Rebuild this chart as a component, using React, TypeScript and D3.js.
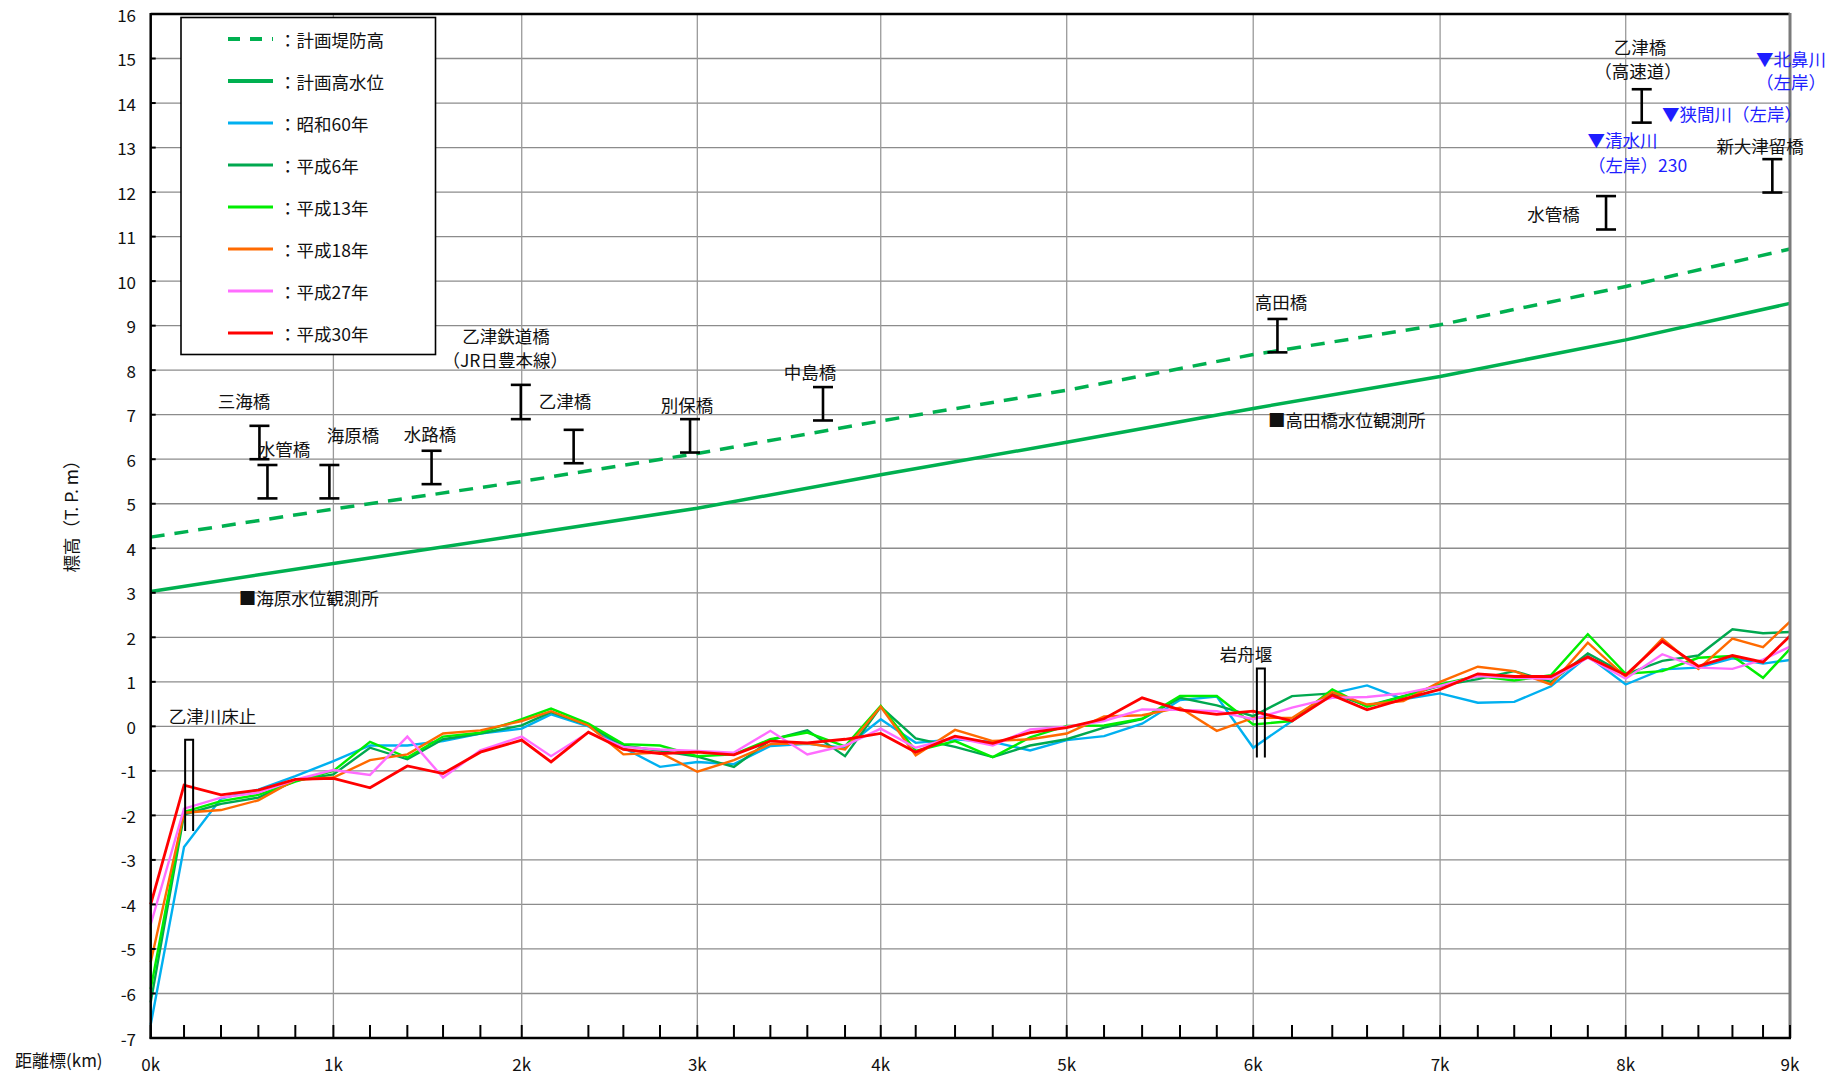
import React from "react";
import * as d3 from "d3";

// ---- data ----
// cumulative distance (m) of each surveyed cross-section (every 200 m km-post)
const stationDist = [0,183,386,591,794,1003,1204,1409,1605,1810,2037,2198,2403,2595,2796,3001,3202,3402,3605,3812,4008,4200,4416,4623,4828,5029,5234,5443,5651,5853,6053,6266,6487,6678,6877,7079,7286,7486,7688,7890,8098,8299,8497,8684,8852,9000];
const kmLabels = ["0k","1k","2k","3k","4k","5k","6k","7k","8k","9k"];
const noTickIdx = [11];
const yTicks = d3.range(-7, 17);

const s60 = [-6.7,-2.71,-1.62,-1.42,-1.12,-0.78,-0.43,-0.43,-0.33,-0.16,-0.05,0.27,0.0,-0.48,-0.91,-0.8,-0.85,-0.44,-0.39,-0.48,0.16,-0.37,-0.29,-0.35,-0.54,-0.31,-0.22,0.06,0.59,0.67,-0.48,0.12,0.74,0.92,0.61,0.74,0.53,0.55,0.9,1.58,0.94,1.28,1.32,1.53,1.41,1.49];
const h6 = [-6.2,-1.98,-1.74,-1.6,-1.22,-1.08,-0.48,-0.74,-0.29,-0.16,0.02,0.32,0.02,-0.43,-0.55,-0.68,-0.91,-0.31,-0.09,-0.67,0.44,-0.27,-0.46,-0.69,-0.43,-0.29,-0.03,0.16,0.64,0.47,0.23,0.68,0.74,0.46,0.68,0.91,1.06,1.24,1.0,1.64,1.17,1.47,1.59,2.18,2.09,2.12];
const h13 = [-5.9,-1.92,-1.68,-1.54,-1.24,-1.0,-0.35,-0.7,-0.23,-0.14,0.16,0.4,0.06,-0.4,-0.43,-0.67,-0.63,-0.29,-0.14,-0.45,0.46,-0.55,-0.33,-0.69,-0.25,0.01,0.02,0.17,0.68,0.68,0.04,0.12,0.83,0.44,0.67,0.94,1.13,1.03,1.15,2.07,1.18,1.24,1.54,1.58,1.09,1.74];
const h18 = [-5.3,-1.94,-1.88,-1.66,-1.2,-1.15,-0.76,-0.63,-0.16,-0.09,0.12,0.34,0.02,-0.63,-0.59,-1.02,-0.76,-0.4,-0.38,-0.52,0.44,-0.65,-0.08,-0.33,-0.29,-0.16,0.22,0.25,0.42,-0.1,0.19,0.19,0.77,0.49,0.57,1.0,1.34,1.24,0.94,1.88,1.11,1.97,1.29,1.97,1.78,2.35];
const h27 = [-4.45,-1.85,-1.6,-1.49,-1.2,-0.98,-1.09,-0.23,-1.15,-0.54,-0.23,-0.67,-0.14,-0.46,-0.52,-0.55,-0.59,-0.1,-0.63,-0.43,-0.05,-0.48,-0.25,-0.43,-0.07,-0.01,0.12,0.38,0.37,0.34,0.16,0.42,0.64,0.66,0.74,0.91,1.13,1.09,1.07,1.54,1.07,1.62,1.32,1.29,1.5,1.79];
const h30 = [-4.0,-1.32,-1.54,-1.43,-1.19,-1.17,-1.38,-0.89,-1.06,-0.58,-0.31,-0.8,-0.13,-0.52,-0.61,-0.58,-0.64,-0.33,-0.37,-0.29,-0.16,-0.58,-0.22,-0.38,-0.14,-0.03,0.17,0.64,0.37,0.27,0.34,0.12,0.7,0.37,0.61,0.83,1.18,1.12,1.12,1.56,1.15,1.91,1.35,1.59,1.44,2.03];

const planDike = [4.25,4.88,5.5,6.13,6.86,7.55,8.35,9.02,9.88,10.72];
const planHWL = [3.03,3.66,4.3,4.9,5.65,6.38,7.14,7.86,8.68,9.5];

const seriesNames = ["昭和60年","平成6年","平成13年","平成18年","平成27年","平成30年"];
const seriesValues = [s60, h6, h13, h18, h27, h30];
const seriesColors = ["#00b0f0","#00a84f","#00ee00","#ff6a00","#ff6dff","#ff0000"];

// bridges: name, distance (m), deck bottom, deck top
const bridgeNames = ["三海橋","水管橋","海原橋","水路橋","乙津鉄道橋","乙津橋","別保橋","中島橋","高田橋","水管橋","乙津橋","新大津留橋"];
const bridgeDist = [597,641,981,1542,2032,2322,2961,3691,6186,7990,8186,8903];
const bridgeBottom = [6.0,5.12,5.12,5.44,6.9,5.91,6.15,6.87,8.4,11.16,13.56,11.99];
const bridgeTop = [6.75,5.87,5.87,6.19,7.67,6.66,6.9,7.62,9.15,11.91,14.31,12.74];

// weirs
const weirDist = [211,6095];
const weirTop = [-0.3,1.3];
const weirBottom = [-2.35,-0.7];

// text annotations
const labelTexts = ["三海橋","水管橋","海原橋","水路橋","乙津鉄道橋","（JR日豊本線）","乙津橋","別保橋","中島橋","高田橋","水管橋","乙津橋","（高速道）","新大津留橋","■海原水位観測所","■高田橋水位観測所","乙津川床止","岩舟堰","▼清水川","（左岸）230","▼狭間川（左岸）","▼北鼻川","（左岸）"];
const labelDist = [512,732,1111,1534,1951,1946,2275,2945,3620,6206,7702,8177,8166,8836,483,6134,339,6014,8081,8163,8682,9006,9006];
const labelElev = [7.33,6.24,6.56,6.58,8.79,8.24,7.33,7.24,7.96,9.55,11.51,15.27,14.74,13.04,2.9,6.9,0.24,1.64,13.17,12.63,13.77,15.0,14.48];
const labelAnchor = ["middle","middle","middle","middle","middle","middle","middle","middle","middle","middle","middle","middle","middle","middle","start","start","middle","middle","middle","middle","middle","middle","middle"];
const labelBlue = [false,false,false,false,false,false,false,false,false,false,false,false,false,false,false,false,false,false,true,true,true,true,true];

const W = 1843, H = 1081;
const FONT = "'Noto Sans CJK JP', 'Noto Sans', sans-serif";

export default function App() {
  const x = d3.scaleLinear().domain([0, 9000]).range([150.7, 1790]);
  const y = d3.scaleLinear().domain([-7, 16]).range([1038, 14]);
  const kmIdx = stationDist.map((_, i) => i).filter((i) => i % 5 === 0);
  const kmDist = kmIdx.map((i) => stationDist[i]);

  const line = d3.line<[number, number]>().x((d) => x(d[0])).y((d) => y(d[1]));
  const mk = (vals: number[], dists: number[]) => line(vals.map((v, i) => [dists[i], v] as [number, number])) || "";

  const x0 = x(0), x1 = x(9000), yT = y(16), yB = y(-7);
  const legendItems = [
    { name: "計画堤防高", color: "#00b050", width: 4, dash: "12 10" },
    { name: "計画高水位", color: "#00b050", width: 4, dash: null },
    ...seriesNames.map((n, i) => ({ name: n, color: seriesColors[i], width: 3, dash: null })),
  ];

  return (
    <svg width={W} height={H} style={{ position: "absolute", left: 0, top: 0, background: "#fff" }} fontFamily={FONT}>
      <rect x={0} y={0} width={W} height={H} fill="#fff" />
      {/* grid */}
      {yTicks.filter((t) => t > -7 && t < 16).map((t) => (
        <line key={"gy" + t} x1={x0} x2={x1} y1={y(t)} y2={y(t)} stroke="#8c8c8c" strokeWidth={1.3} />
      ))}
      {kmDist.slice(1, -1).map((d, i) => (
        <line key={"gx" + i} x1={x(d)} x2={x(d)} y1={yT} y2={yB} stroke="#9a9a9a" strokeWidth={1.3} />
      ))}

      {/* plan lines */}
      <path d={mk(planHWL, kmDist)} fill="none" stroke="#00b050" strokeWidth={3.5} />
      <path d={mk(planDike, kmDist)} fill="none" stroke="#00b050" strokeWidth={3.5} strokeDasharray="14 10" />

      {/* bed profiles */}
      {seriesValues.map((vals, i) => (
        <path key={"s" + i} d={mk(vals, stationDist)} fill="none" stroke={seriesColors[i]} strokeWidth={i === 5 ? 2.8 : 2.4} strokeLinejoin="miter" />
      ))}

      {/* bridges */}
      {bridgeNames.map((n, i) => {
        const bx = x(bridgeDist[i]);
        const t = y(bridgeTop[i]), b = y(bridgeBottom[i]);
        return (
          <g key={"b" + i} stroke="#000" strokeWidth={2.6}>
            <line x1={bx} x2={bx} y1={t} y2={b} />
            <line x1={bx - 10} x2={bx + 10} y1={t} y2={t} />
            <line x1={bx - 10} x2={bx + 10} y1={b} y2={b} />
          </g>
        );
      })}

      {/* weirs */}
      {weirDist.map((d, i) => {
        const cx = x(d), t = y(weirTop[i]), b = y(weirBottom[i]);
        return (
          <path key={"w" + i} d={`M${cx - 4},${b}L${cx - 4},${t}L${cx + 4},${t}L${cx + 4},${b}`} fill="none" stroke="#000" strokeWidth={2} />
        );
      })}

      {/* axes */}
      <line x1={x0} x2={x1} y1={yT} y2={yT} stroke="#000" strokeWidth={2.5} />
      <line x1={x1} x2={x1} y1={yT - 1} y2={yB} stroke="#7a7a7a" strokeWidth={3} />
      <line x1={x0} x2={x0} y1={yT - 1} y2={yB + 1} stroke="#000" strokeWidth={2.5} />
      <line x1={x0 - 1} x2={x1 + 1} y1={yB} y2={yB} stroke="#000" strokeWidth={2.5} />

      {/* labels */}
      {labelTexts.map((t, i) => (
        <text key={"l" + i} x={x(labelDist[i])} y={y(labelElev[i])} textAnchor={labelAnchor[i]} dominantBaseline="central"
          fontSize={17.5} fill={labelBlue[i] ? "#1e1eff" : "#111"}>{t}</text>
      ))}

      {yTicks.map((t) => (
        <g key={"yt" + t}>
          <line x1={x0} x2={x0 + 5} y1={y(t)} y2={y(t)} stroke="#000" strokeWidth={2} />
          <text x={136} y={y(t)} textAnchor="end" dominantBaseline="central" fontSize={17} fill="#111">{t}</text>
        </g>
      ))}
      {stationDist.map((d, i) => noTickIdx.includes(i) ? null : (
        <line key={"xt" + i} x1={x(d)} x2={x(d)} y1={yB} y2={yB - 13} stroke="#000" strokeWidth={2} />
      ))}
      {kmDist.map((d, i) => (
        <text key={"xl" + i} x={x(d)} y={1063} textAnchor="middle" dominantBaseline="central" fontSize={17} fill="#111">{kmLabels[i]}</text>
      ))}
      <text x={15} y={1059} dominantBaseline="central" fontSize={17} fill="#111">距離標(km)</text>
      <text transform="translate(70,512) rotate(-90)" textAnchor="middle" dominantBaseline="central" fontSize={17.5} fill="#111">標高（T. P. m）</text>

      {/* legend */}
      <rect x={181} y={17.5} width={254.5} height={337} fill="#fff" stroke="#000" strokeWidth={1.6} />
      {legendItems.map((it, i) => {
        const ly = 39 + 42 * i;
        return (
          <g key={"lg" + i}>
            <line x1={228} x2={273} y1={ly} y2={ly} stroke={it.color} strokeWidth={it.width} strokeDasharray={it.dash || undefined} />
            <text x={279} y={ly} dominantBaseline="central" fontSize={17.5} fill="#111">：{it.name}</text>
          </g>
        );
      })}
    </svg>
  );
}
